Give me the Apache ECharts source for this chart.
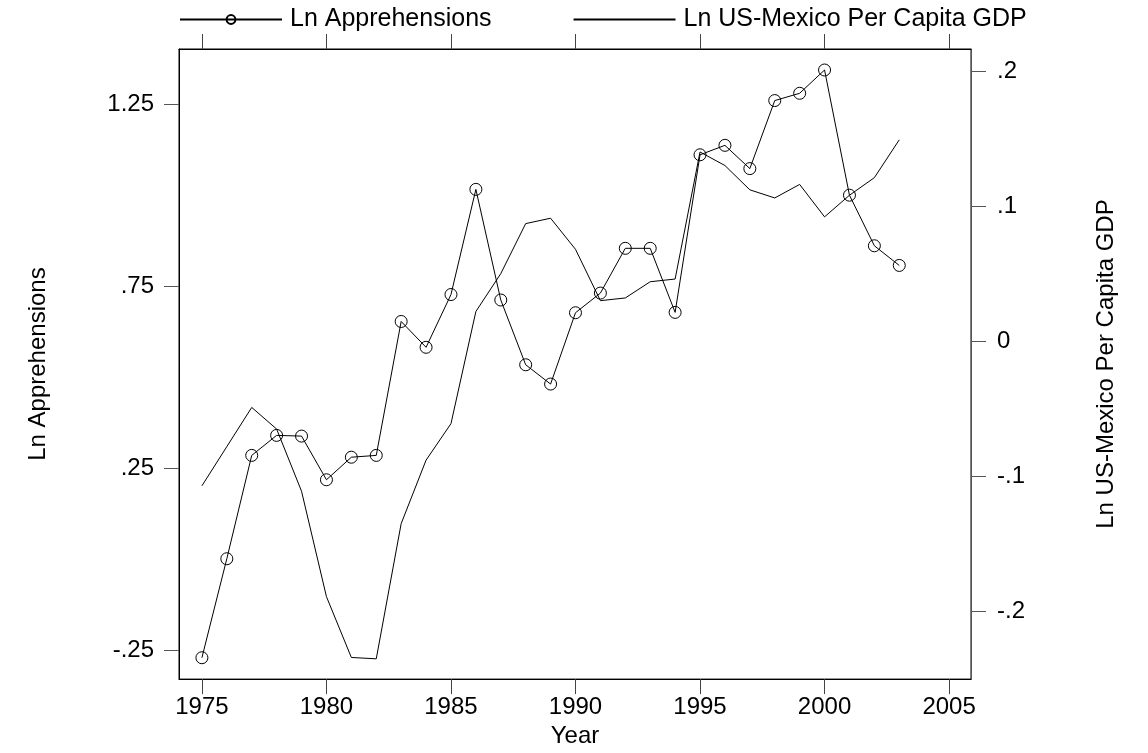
<!DOCTYPE html>
<html>
<head>
<meta charset="utf-8">
<script src="https://cdn.jsdelivr.net/npm/echarts@6/dist/echarts.min.js"></script>
<style>html,body{margin:0;padding:0;background:#fff}#c{width:1148px;height:753px}</style>
</head>
<body>
<div id="c"></div>
<script>
const years = [1975,1976,1977,1978,1979,1980,1981,1982,1983,1984,1985,1986,1987,1988,1989,1990,1991,1992,1993,1994,1995,1996,1997,1998,1999,2000,2001,2002,2003];
const lnApprehensions = [-0.270,0.002,0.286,0.341,0.339,0.219,0.281,0.286,0.654,0.583,0.728,1.017,0.713,0.535,0.482,0.678,0.732,0.855,0.855,0.679,1.112,1.138,1.074,1.261,1.281,1.345,1.001,0.862,0.808];
const lnGdpRatio = [-0.107,-0.078,-0.049,-0.065,-0.111,-0.189,-0.234,-0.235,-0.135,-0.088,-0.061,0.022,0.050,0.087,0.091,0.068,0.030,0.032,0.044,0.046,0.140,0.130,0.112,0.106,0.116,0.092,0.108,0.121,0.149];
const xTicks = [1975,1980,1985,1990,1995,2000,2005];
const leftTicks = [-0.25,0.25,0.75,1.25];
const leftTickLabels = ['-.25','.25','.75','1.25'];
const rightTicks = [-0.2,-0.1,0,0.1,0.2];
const rightTickLabels = ['-.2','-.1','0','.1','.2'];

const FONT = 'Liberation Sans';
const FS = 24;
function lab(vals, labels){ return function(v){ for(let i=0;i<vals.length;i++){ if(Math.abs(vals[i]-v)<1e-6) return labels[i]; } return ''; }; }

const chart = echarts.init(document.getElementById('c'), null, {renderer:'canvas'});
chart.setOption({
  animation:false,
  backgroundColor:'#fff',
  textStyle:{fontFamily:FONT,color:'#000'},
  grid:{left:179,top:49,right:177,bottom:72,show:true,borderColor:'#000',borderWidth:1,backgroundColor:'transparent'},
  legend:{
    left:179, top:7, padding:0, itemGap:81, itemWidth:102, itemHeight:11,
    textStyle:{fontFamily:FONT,fontSize:25,color:'#000',padding:[0,0,0,3]},
    data:[
      {name:'Ln Apprehensions'},
      {name:'Ln US-Mexico Per Capita GDP', itemStyle:{color:'rgba(0,0,0,0)',borderWidth:0,opacity:0}}
    ]
  },
  xAxis:[{
    type:'value', min:1974.08, max:2005.88, position:'bottom',
    name:'Year', nameLocation:'middle', nameGap:35,
    nameTextStyle:{fontFamily:FONT,fontSize:FS,color:'#000'},
    axisLine:{show:true,onZero:false,lineStyle:{color:'#000',width:1}},
    axisTick:{show:true,inside:false,length:15,customValues:xTicks,lineStyle:{color:'#444',width:1}},
    axisLabel:{show:true,customValues:xTicks,margin:16,fontFamily:FONT,fontSize:FS,color:'#000',formatter:v=>String(Math.round(v))},
    splitLine:{show:false}
  },{
    type:'value', min:1974.08, max:2005.88, position:'top',
    axisLine:{show:true,onZero:false,lineStyle:{color:'#000',width:1}},
    axisTick:{show:true,inside:false,length:15,customValues:xTicks,lineStyle:{color:'#444',width:1}},
    axisLabel:{show:false},
    splitLine:{show:false}
  }],
  yAxis:[{
    type:'value', min:-0.3287, max:1.4027, position:'left',
    name:'Ln Apprehensions', nameLocation:'middle', nameGap:129, nameRotate:90,
    nameTextStyle:{fontFamily:FONT,fontSize:FS,color:'#000'},
    axisLine:{show:true,onZero:false,lineStyle:{color:'#000',width:1}},
    axisTick:{show:true,inside:false,length:15,customValues:leftTicks,lineStyle:{color:'#555',width:1}},
    axisLabel:{show:true,customValues:leftTicks,margin:25,fontFamily:FONT,fontSize:FS,color:'#000',formatter:lab(leftTicks,leftTickLabels)},
    splitLine:{show:false}
  },{
    type:'value', min:-0.25, max:0.2162, position:'right',
    name:'Ln US-Mexico Per Capita GDP', nameLocation:'middle', nameGap:123, nameRotate:90,
    nameTextStyle:{fontFamily:FONT,fontSize:FS,color:'#000'},
    axisLine:{show:true,onZero:false,lineStyle:{color:'#555',width:1}},
    axisTick:{show:true,inside:false,length:15,customValues:rightTicks,lineStyle:{color:'#555',width:1}},
    axisLabel:{show:true,customValues:rightTicks,margin:26,fontFamily:FONT,fontSize:FS,color:'#000',formatter:lab(rightTicks,rightTickLabels)},
    splitLine:{show:false}
  }],
  series:[{
    name:'Ln Apprehensions', type:'line', xAxisIndex:0, yAxisIndex:0,
    data: years.map((y,i)=>[y,lnApprehensions[i]]),
    symbol:'circle', symbolSize:12, showSymbol:true,
    lineStyle:{color:'#000',width:1},
    itemStyle:{color:'rgba(0,0,0,0)',borderColor:'#000',borderWidth:1},
    z:3
  },{
    name:'Ln US-Mexico Per Capita GDP', type:'line', xAxisIndex:0, yAxisIndex:1,
    data: years.map((y,i)=>[y,lnGdpRatio[i]]),
    symbol:'none',
    lineStyle:{color:'#000',width:1},
    itemStyle:{color:'#000'},
    z:2
  }]
});
</script>
</body>
</html>
